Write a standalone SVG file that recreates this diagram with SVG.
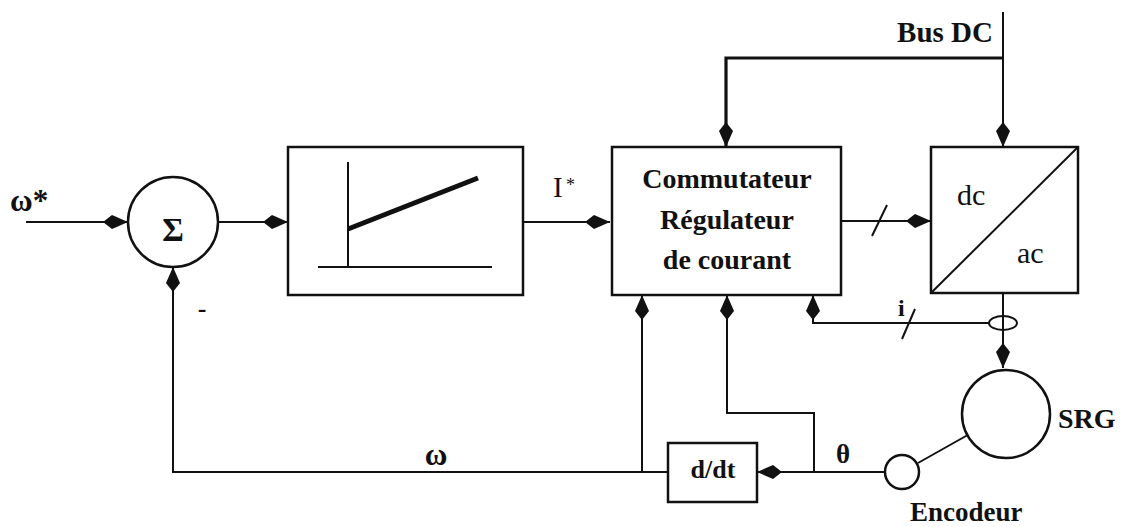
<svg xmlns="http://www.w3.org/2000/svg" width="1123" height="527" viewBox="0 0 1123 527">
<style>
.box{fill:#fff;stroke:#111;stroke-width:2.5}
.ln{fill:none;stroke:#111;stroke-width:2}
.thk{fill:none;stroke:#111;stroke-width:3.2}
.t{font-family:"Liberation Serif",serif;fill:#111}
.b{font-weight:bold}
</style>
<defs>
<marker id="arr" markerUnits="userSpaceOnUse" orient="auto" viewBox="-26 -8 27 16" markerWidth="27" markerHeight="16" refX="0" refY="0">
<path d="M0,0 L-16,-7 L-25,0 L-16,7 Z" fill="#111"/>
</marker>
</defs>
<rect width="1123" height="527" fill="#fff"/>

<g id="connectors">
<path class="ln" d="M26,222 H128" marker-end="url(#arr)"/>
<path class="ln" d="M218,222 H288" marker-end="url(#arr)"/>
<path class="ln" d="M523,222 H610" marker-end="url(#arr)"/>
<path class="ln" d="M841,221 H931" marker-end="url(#arr)"/>
<path class="ln" d="M872,236 L887,205"/>
<path class="ln" d="M1003,12 V147" marker-end="url(#arr)"/>
<path class="thk" d="M1003,58 H726 V147" marker-end="url(#arr)"/>
<path class="ln" d="M1003,293 V368" marker-end="url(#arr)"/>
<ellipse cx="1003" cy="323" rx="14" ry="7" class="ln"/>
<path class="ln" d="M989,323 H813 V295" marker-end="url(#arr)"/>
<path class="ln" d="M915,309 L902,339"/>
<path class="ln" d="M885,472 H757" marker-end="url(#arr)"/>
<path class="ln" d="M814,472 V413 H727 V295" marker-end="url(#arr)"/>
<path class="ln" d="M668,472 H173 V267" marker-end="url(#arr)"/>
<path class="ln" d="M642,472 V295" marker-end="url(#arr)"/>
<path class="ln" d="M918,463 L1005,414"/>
</g>

<g id="sum">
<circle cx="173" cy="222" r="45" class="box"/>
<text x="173" y="241" text-anchor="middle" class="t b" font-size="33">Σ</text>
</g>

<g id="limiter">
<rect x="288" y="147" width="235" height="148" class="box"/>
<path class="ln" d="M348,162 V267 M318,267 H492"/>
<path d="M348,229 L478,178" fill="none" stroke="#111" stroke-width="5"/>
</g>

<g id="commutateur">
<rect x="612" y="147" width="229" height="148" class="box"/>
<text x="727" y="188" text-anchor="middle" class="t b" font-size="28">Commutateur</text>
<text x="727" y="229" text-anchor="middle" class="t b" font-size="28">Régulateur</text>
<text x="727" y="269" text-anchor="middle" class="t b" font-size="28">de courant</text>
</g>

<g id="converter">
<rect x="931" y="147" width="147" height="146" class="box"/>
<path class="ln" d="M931,293 L1078,147"/>
<text x="957" y="205" class="t" font-size="30">dc</text>
<text x="1017" y="263" class="t" font-size="30">ac</text>
</g>

<g id="srg">
<circle cx="1006" cy="414" r="44" class="box" fill="none"/>
<text x="1058" y="428" class="t b" font-size="28">SRG</text>
</g>

<g id="encodeur">
<circle cx="902" cy="472" r="17" class="box"/>
<text x="910" y="521" class="t b" font-size="27">Encodeur</text>
</g>

<g id="ddt">
<rect x="668" y="443" width="89" height="59" class="box"/>
<text x="713" y="478" text-anchor="middle" class="t b" font-size="26">d/dt</text>
</g>

<g id="labels">
<text x="10" y="211" class="t b" font-size="31">ω*</text>
<text x="553" y="197" class="t" font-size="29">I</text>
<text x="566" y="191" class="t" font-size="18">*</text>
<text x="436" y="465" text-anchor="middle" class="t b" font-size="31">ω</text>
<text x="843" y="463" text-anchor="middle" class="t b" font-size="27">θ</text>
<text x="898" y="316" class="t b" font-size="24">i</text>
<text x="993" y="42" text-anchor="end" class="t b" font-size="29">Bus DC</text>
<text x="202" y="317" text-anchor="middle" class="t b" font-size="26">-</text>
</g>
</svg>
